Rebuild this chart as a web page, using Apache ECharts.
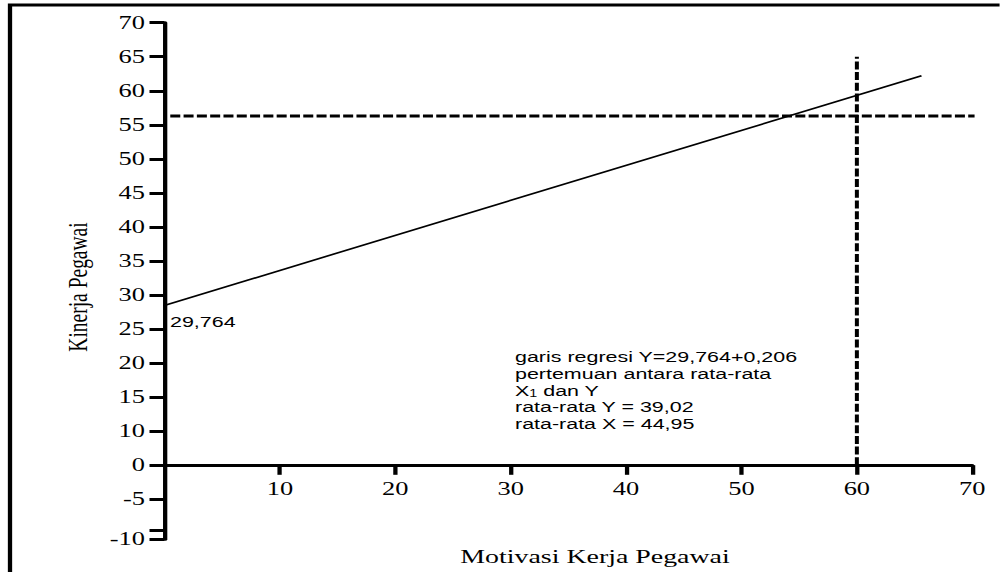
<!DOCTYPE html>
<html>
<head>
<meta charset="utf-8">
<script src="https://cdn.jsdelivr.net/npm/echarts@6/dist/echarts.min.js"></script>
<style>
html, body { margin: 0; padding: 0; background: #fff; overflow: hidden; }
#wrap { width: 1000px; height: 572px; overflow: hidden; position: relative; background: #fff; }
#chart { position: absolute; left: 0; top: 0; height: 572px; transform-origin: 0 0; }
</style>
</head>
<body>
<div id="wrap"><div id="chart"></div></div>
<script>
// ---- data ----
const xTickValues = [10, 20, 30, 40, 50, 60, 70];
const yTickLabels = ['-10', '-5', '0', '10', '15', '20', '25', '30', '35', '40', '45', '50', '55', '60', '65', '70'];
const yTickValues = [-5.86, 0, 5, 10, 15, 20, 25, 30, 35, 40, 45, 50, 55, 60, 65, 70];
const yExtraTickValues = [-4.6];
const regressionX = [-0.55, 65.6];
const regressionY = [28.2, 62.2];
const meanHorizX = [0.5, 70.2];
const meanHorizY = [56.3, 56.3];
const meanVertX = [60, 60];
const meanVertY = [5, 65];
const interceptLabel = '29,764';
const noteLines = [
  'garis regresi Y=29,764+0,206',
  'pertemuan antara rata-rata',
  'X{sub|1} dan Y',
  'rata-rata Y = 39,02',
  'rata-rata X = 44,95'
];
const xAxisName = 'Motivasi Kerja Pegawai';
const yAxisName = 'Kinerja Pegawai';

// ---- layout (the reference is horizontally stretched) ----
const S = 1.43;
const W = 1000 / S;
const el = document.getElementById('chart');
el.style.width = W + 'px';
el.style.transform = 'scaleX(' + S + ')';

const serif = 'Liberation Serif';
const sans = 'Liberation Sans';
const black = '#000';

function yFmt(v) {
  const i = yTickValues.findIndex(t => Math.abs(t - v) < 1e-6);
  return i >= 0 ? yTickLabels[i] : '';
}

const gridLeft = 164.5 / S;
const gridRight = W - 972.7 / S;

const yAxisCommon = {
  type: 'value',
  position: 'left',
  splitLine: { show: false },
  axisLine: { show: true, onZero: false, lineStyle: { color: black, width: 3 } },
  axisTick: { show: true, length: 15 / S, lineStyle: { color: black, width: 3 } },
  axisLabel: { color: black, fontFamily: serif, fontSize: 18.5, margin: 13.6, formatter: yFmt }
};

const upperVals = yTickValues.filter(v => v >= 5);
const lowerVals = yTickValues.filter(v => v < 5);

const option = {
  animation: false,
  backgroundColor: '#fff',
  grid: [
    { left: gridLeft, right: gridRight, top: 22.7, bottom: 572 - 465.3, outerBoundsMode: 'none', containLabel: false },
    { left: gridLeft, right: gridRight, top: 465.3, bottom: 572 - 539.3, outerBoundsMode: 'none', containLabel: false }
  ],
  xAxis: [
    {
      gridIndex: 0, type: 'value', min: 0, max: 70, interval: 10,
      splitLine: { show: false },
      axisLine: { show: true, onZero: false, lineStyle: { color: black, width: 3 } },
      axisTick: { show: true, length: 9.5, customValues: xTickValues, lineStyle: { color: black, width: 3 } },
      axisLabel: { customValues: xTickValues, color: black, fontFamily: serif, fontSize: 18.5, margin: 14 }
    },
    { gridIndex: 1, type: 'value', min: 0, max: 70, show: false }
  ],
  yAxis: [
    Object.assign({}, yAxisCommon, {
      gridIndex: 0, min: 5, max: 70,
      axisTick: Object.assign({}, yAxisCommon.axisTick, { customValues: upperVals }),
      axisLabel: Object.assign({}, yAxisCommon.axisLabel, { customValues: upperVals })
    }),
    Object.assign({}, yAxisCommon, {
      gridIndex: 1, min: yTickValues[0], max: 5,
      axisTick: Object.assign({}, yAxisCommon.axisTick, { customValues: lowerVals.concat(yExtraTickValues) }),
      axisLabel: Object.assign({}, yAxisCommon.axisLabel, { customValues: lowerVals })
    })
  ],
  series: [
    {
      type: 'line', xAxisIndex: 0, yAxisIndex: 0, clip: false, silent: true,
      symbol: 'none', data: regressionX.map((x, i) => [x, regressionY[i]]),
      lineStyle: { color: black, width: 1.6 }
    },
    {
      type: 'line', xAxisIndex: 0, yAxisIndex: 0, clip: false, silent: true,
      symbol: 'none', data: meanHorizX.map((x, i) => [x, meanHorizY[i]]),
      lineStyle: { color: black, width: 3, type: [7, 2.3] }
    },
    {
      type: 'line', xAxisIndex: 0, yAxisIndex: 0, clip: false, silent: true,
      symbol: 'none', data: meanVertX.map((x, i) => [x, meanVertY[i]]),
      lineStyle: { color: black, width: 2.8, type: [8, 2.7] }
    }
  ],
  graphic: [
    {
      type: 'rect', silent: true, z: 0,
      shape: { x: 10 / S, y: 5, width: 3000, height: 3000 },
      style: { fill: 'none', stroke: black, lineWidth: 3 }
    },
    {
      type: 'text', silent: true,
      x: 170 / S, y: 321.7,
      style: { text: interceptLabel, font: '15px "' + sans + '"', fill: black, align: 'left', verticalAlign: 'middle' }
    },
    {
      type: 'text', silent: true,
      x: 515 / S, y: 348.5,
      style: {
        text: noteLines.join('\n'),
        font: '15px "' + sans + '"', fill: black, align: 'left', verticalAlign: 'top', lineHeight: 16.7,
        rich: {
          sub: { fontSize: 10, fontFamily: sans, fill: black, lineHeight: 16.7, verticalAlign: 'bottom' }
        }
      }
    },
    {
      type: 'text', silent: true,
      x: 595 / S, y: 557,
      style: { text: xAxisName, font: '19.5px "' + serif + '"', fill: black, align: 'center', verticalAlign: 'middle' }
    },
    {
      type: 'text', silent: true,
      x: 78 / S, y: 287, rotation: Math.PI / 2,
      style: { text: yAxisName, font: '19.5px "' + serif + '"', fill: black, align: 'center', verticalAlign: 'middle' }
    }
  ]
};

const chart = echarts.init(el, null, { renderer: 'svg' });
chart.setOption(option);
</script>
</body>
</html>
